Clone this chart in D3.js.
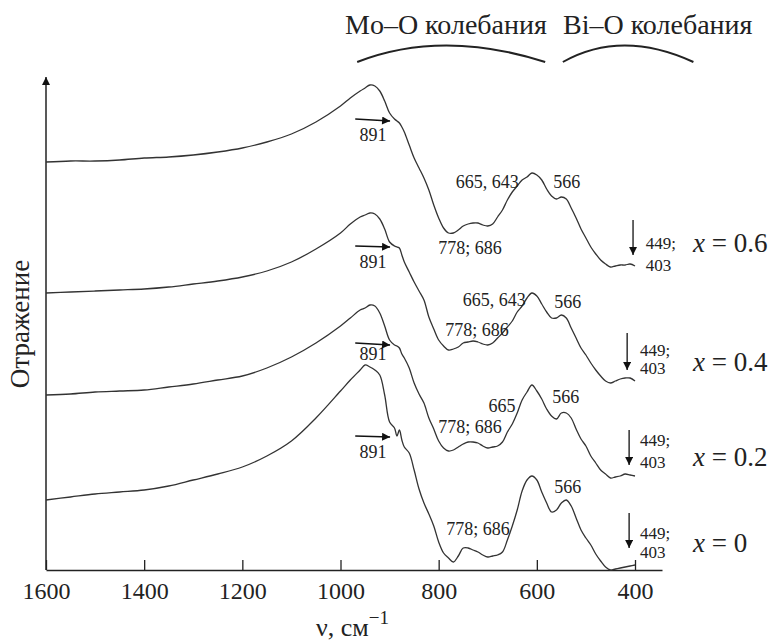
<!DOCTYPE html>
<html>
<head>
<meta charset="utf-8">
<script src="https://cdn.jsdelivr.net/npm/d3@7"></script>
<style>
body { margin: 0; background: #fff; }
</style>
</head>
<body>
<svg id="chart"></svg>
<script>
// wavenumber grid, cm^-1
const wavenumbers = [1600,1550,1500,1450,1400,1350,1300,1250,1200,1150,1100,1050,1000,980,960,950,940,930,920,910,900,890,885,880,875,870,
  860,850,840,830,820,810,800,790,780,770,760,750,740,730,720,710,700,690,680,670,660,650,640,630,620,610,600,590,580,570,560,550,540,530,
  520,510,500,490,480,470,460,450,440,430,420,410,400];

// reflection, arb. units (curves are shifted vertically)
const refl06 = [408,409,409,410,412,413,415,418,422,428,436,448,464,472,479,482,485,484,479,469,457,451,449,447,443,438,
  425,412,402,392,380,365,352,342,337,337,340,344,346,347,347,345,344,346,353,360,370,378,384,390,393,397,395,390,381,374,371,373,371,362,
  352,341,332,323,316,310,306,303,304,305,305,306,304];
const refl04 = [277,278,279,280,281,283,286,289,293,299,308,321,337,346,353,355,357,356,351,341,328,324,323,322,315,308,
  298,288,279,270,253,241,230,224,220,221,223,227,228,229,228,226,225,227,232,237,243,249,258,264,272,277,274,266,258,252,252,255,252,242,
  232,222,215,207,200,194,189,187,189,191,192,192,189];
const refl02 = [175,176,178,179,180,183,186,190,194,202,213,227,244,252,260,262,265,264,257,244,230,225,224,222,216,212,
  202,187,176,167,152,141,129,122,119,120,123,126,128,128,127,124,122,123,124,128,138,146,157,170,178,185,179,171,161,154,151,157,157,152,
  141,131,124,114,107,100,96,92,93,94,96,95,94];
const refl00 = [70,73,76,78,80,84,90,96,103,114,129,152,179,190,200,205,203,200,195,175,148,142,134,140,130,123,
  117,100,81,67,56,44,28,17,12,8,14,22,22,20,18,15,13,14,15,18,30,44,60,79,90,94,90,78,67,58,60,67,70,64,
  52,40,32,25,16,9,3,0,1,2,3,4,5];

const seriesValues = ['0.6', '0.4', '0.2', '0'];
const seriesRefl = [refl06, refl04, refl02, refl00];
const seriesLabelPos = [327, 208, 113, 27];

// annotations: [text, wavenumber, reflection]
const peakLabels = [
  ['891', 934, 435], ['665, 643', 701, 388], ['566', 539, 388], ['778; 686', 736, 322],
  ['891', 934, 308], ['665, 643', 687, 270], ['566', 537, 268], ['778; 686', 722, 240],
  ['891', 934, 216], ['665', 671, 164], ['566', 541, 173], ['778; 686', 736, 143],
  ['891', 934, 118], ['566', 537, 83], ['778; 686', 720, 41]
];
// horizontal arrows to the 891 shoulder: [nu1, r1, nu2, r2]
const sideArrows = [[970, 451, 899, 449], [970, 324, 899, 323], [970, 227, 899, 225], [970, 134, 899, 133]];
// down arrows at 449/403
const downArrows = [[404, 350, 404, 315], [416, 237, 416, 200], [412, 140, 412, 105], [412, 57, 412, 22]];
const lowLabels = [[378, 327, 305], [390, 220, 202], [390, 130, 108], [390, 37, 18]];

const bands = [['Mo–O колебания', 966, 583], ['Bi–O колебания', 547, 281]];
const xTicks = [1600, 1400, 1200, 1000, 800, 600, 400];

const FONT = '"Liberation Serif", "Times New Roman", Times, "DejaVu Serif", serif';
const width = 772, height = 643;
const svg = d3.select('#chart').attr('width', width).attr('height', height)
  .attr('font-family', FONT).attr('fill', '#222');

const xScale = d3.scaleLinear().domain([1600, 345]).range([46, 662]);
const yScale = d3.scaleLinear().domain([0, 493]).range([570, 77]);

// arrow markers
const defs = svg.append('defs');
defs.append('marker').attr('id', 'arr')
  .attr('viewBox', '0 0 10 10').attr('refX', 10).attr('refY', 5)
  .attr('markerWidth', 11).attr('markerHeight', 8).attr('markerUnits', 'userSpaceOnUse')
  .attr('orient', 'auto')
  .append('path').attr('d', 'M0,0 L10,5 L0,10 Z').attr('fill', '#111');
defs.append('marker').attr('id', 'axarr')
  .attr('viewBox', '0 0 10 10').attr('refX', 10).attr('refY', 5)
  .attr('markerWidth', 12).attr('markerHeight', 8).attr('markerUnits', 'userSpaceOnUse')
  .attr('orient', 'auto')
  .append('path').attr('d', 'M0,0 L10,5 L0,10 Z').attr('fill', '#111');

// x axis
const xAxis = d3.axisBottom(xScale).tickValues(xTicks).tickFormat(d3.format('d'))
  .tickSizeInner(-10).tickSizeOuter(0).tickPadding(12);
const gx = svg.append('g').attr('transform', 'translate(0,' + yScale(0) + ')').call(xAxis)
  .attr('font-family', FONT).attr('font-size', 24);
gx.select('.domain').attr('stroke', '#222').attr('stroke-width', 1.5);
gx.selectAll('.tick line').attr('stroke', '#222').attr('stroke-width', 1.3);
gx.selectAll('.tick text').attr('fill', '#222');

// y axis with arrow
svg.append('line')
  .attr('x1', xScale(1600)).attr('x2', xScale(1600))
  .attr('y1', yScale(0)).attr('y2', yScale(493))
  .attr('stroke', '#222').attr('stroke-width', 1.5)
  .attr('marker-end', 'url(#axarr)');

svg.append('text')
  .attr('transform', 'translate(29,324) rotate(-90)')
  .attr('text-anchor', 'middle')
  .attr('font-size', 27)
  .text('Отражение');

const xt = svg.append('text').attr('x', 316).attr('y', 636).attr('font-size', 26);
xt.append('tspan').text('ν, см');
xt.append('tspan').attr('dy', -12).attr('font-size', 19).text('−1');

// curves
const line = d3.line()
  .x((d, i) => xScale(wavenumbers[i]))
  .y(d => yScale(d))
  .curve(d3.curveCatmullRom.alpha(0.5));

svg.selectAll('path.curve')
  .data(seriesRefl)
  .enter()
  .append('path')
  .attr('class', 'curve')
  .attr('d', d => line(d))
  .attr('fill', 'none')
  .attr('stroke', '#333')
  .attr('stroke-width', 1.3);

// peak labels
svg.selectAll('text.peak')
  .data(peakLabels)
  .enter()
  .append('text')
  .attr('class', 'peak')
  .attr('x', d => xScale(d[1]))
  .attr('y', d => yScale(d[2]))
  .attr('dy', '0.35em')
  .attr('text-anchor', 'middle')
  .attr('font-size', 18)
  .text(d => d[0]);

svg.selectAll('line.side')
  .data(sideArrows)
  .enter()
  .append('line')
  .attr('class', 'side')
  .attr('x1', d => xScale(d[0])).attr('y1', d => yScale(d[1]))
  .attr('x2', d => xScale(d[2])).attr('y2', d => yScale(d[3]))
  .attr('stroke', '#111').attr('stroke-width', 1.3)
  .attr('marker-end', 'url(#arr)');

svg.selectAll('line.down')
  .data(downArrows)
  .enter()
  .append('line')
  .attr('class', 'down')
  .attr('x1', d => xScale(d[0])).attr('y1', d => yScale(d[1]))
  .attr('x2', d => xScale(d[2])).attr('y2', d => yScale(d[3]))
  .attr('stroke', '#111').attr('stroke-width', 1.3)
  .attr('marker-end', 'url(#arr)');

lowLabels.forEach(d => {
  svg.append('text').attr('x', xScale(d[0])).attr('y', yScale(d[1])).attr('dy', '0.35em')
    .attr('font-size', 17).text('449;');
  svg.append('text').attr('x', xScale(d[0])).attr('y', yScale(d[2])).attr('dy', '0.35em')
    .attr('font-size', 17).text('403');
});

// series labels
seriesValues.forEach((v, i) => {
  const t = svg.append('text').attr('x', xScale(282)).attr('y', yScale(seriesLabelPos[i]))
    .attr('dy', '0.35em').attr('font-size', 27);
  t.append('tspan').attr('font-style', 'italic').text('x');
  t.append('tspan').text(' = ' + v);
});

// band arcs and captions
bands.forEach((b, i) => {
  const x1 = xScale(b[1]), x2 = xScale(b[2]);
  const cx = x1 + (x2 - x1) * 0.45;
  svg.append('path')
    .attr('d', 'M' + x1 + ',62 Q' + cx + ',29 ' + x2 + ',62')
    .attr('fill', 'none').attr('stroke', '#222').attr('stroke-width', 2);
  svg.append('text').attr('x', i === 0 ? 345 : 563).attr('y', 34)
    .attr('font-size', 28).text(b[0]);
});
</script>
</body>
</html>
